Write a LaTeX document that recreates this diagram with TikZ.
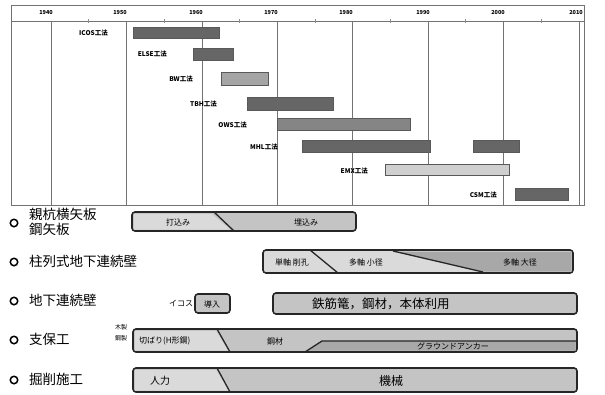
\documentclass[tikz,border=0pt]{standalone}
\usepackage{fontspec}
\newfontfamily\jp{Noto Sans CJK JP}
\usepackage{tikz}

\definecolor{bardark}{HTML}{666666}
\definecolor{barmid}{HTML}{858585}
\definecolor{barlight}{HTML}{A5A5A5}
\definecolor{barpale}{HTML}{CFCFCF}
\definecolor{bandfill}{HTML}{C4C4C4}
\definecolor{bandpale}{HTML}{DADADA}
\definecolor{banddark}{HTML}{A8A8A8}

\begin{document}
\begin{tikzpicture}[x=1pt,y=-1pt,font=\jp,
	grid/.style={draw=black!55, line width=0.8pt},
	bar/.style={draw=black!65, line width=0.6pt},
	year/.style={font=\jp\fontsize{5.5}{6}\selectfont\bfseries, inner sep=0pt},
	lbl/.style={font=\jp\fontsize{6.5}{7}\selectfont\bfseries, anchor=east, inner sep=0pt},
	band/.style={draw=black!85, line width=1.6pt, rounded corners=3pt},
	cut/.style={draw=black!85, line width=1.3pt},
	row/.style={font=\jp\fontsize{13.5}{14.5}\selectfont, anchor=west, align=left, inner sep=0pt},
	txt/.style={font=\jp\fontsize{8}{9}\selectfont, inner sep=0pt},
	dot/.style={draw, line width=1.5pt, circle, minimum size=7.5pt, inner sep=0pt}]

	\useasboundingbox (0,0) rectangle (605,394);

	% Draw frame
	\draw[grid] (11,5) rectangle (584,205);
	\draw[grid] (11,21) -- (584,21);

	% Draw grid
	\draw[grid] (51,21) -- (51,205);
	\draw[grid] (126,21) -- (126,205);
	\draw[grid] (202,21) -- (202,205);
	\draw[grid] (277,21) -- (277,205);
	\draw[grid] (352,21) -- (352,205);
	\draw[grid] (428,21) -- (428,205);
	\draw[grid] (503,21) -- (503,205);
	\draw[grid] (579,21) -- (579,205);

	\draw[black!45] (88,19) -- (88,23);
	\draw[black!45] (164,19) -- (164,23);
	\draw[black!45] (239,19) -- (239,23);
	\draw[black!45] (315,19) -- (315,23);
	\draw[black!45] (390,19) -- (390,23);
	\draw[black!45] (465,19) -- (465,23);
	\draw[black!45] (541,19) -- (541,23);

	% Years
	\node[year] (y1940) at (46,13) {1940};
	\node[year] (y1950) at (120,13) {1950};
	\node[year] (y1960) at (196,13) {1960};
	\node[year] (y1970) at (271,13) {1970};
	\node[year] (y1980) at (346,13) {1980};
	\node[year] (y1990) at (423,13) {1990};
	\node[year] (y2000) at (498,13) {2000};
	\node[year] (y2010) at (576,13) {2010};

	% Draw bars
	\filldraw[bar, fill=bardark] (133,27) rectangle (219,38);
	\filldraw[bar, fill=bardark] (193,48) rectangle (233,60);
	\filldraw[bar, fill=barlight] (221,72) rectangle (268,85);
	\filldraw[bar, fill=bardark] (247,97) rectangle (333,110);
	\filldraw[bar, fill=barmid] (277,118) rectangle (410,130);
	\filldraw[bar, fill=bardark] (302,140) rectangle (430,152);
	\filldraw[bar, fill=bardark] (473,140) rectangle (519,152);
	\filldraw[bar, fill=barpale] (385,164) rectangle (509,175);
	\filldraw[bar, fill=bardark] (515,188) rectangle (568,200);

	% Labels
	\node[lbl] (m1) at (108,33) {ICOS工法};
	\node[lbl] (m2) at (167,54) {ELSE工法};
	\node[lbl] (m3) at (193,79) {BW工法};
	\node[lbl] (m4) at (217,104) {TBH工法};
	\node[lbl] (m5) at (247,125) {OWS工法};
	\node[lbl] (m6) at (278,147) {MHL工法};
	\node[lbl] (m7) at (368,171) {EMX工法};
	\node[lbl] (m8) at (497,195) {CSM工法};

	% Row 1
	\node[dot] (c1) at (14,223) {};
	\node[row] (r1) at (29,222) {親杭横矢板\\鋼矢板};
	\draw[band, fill=bandfill] (132,212) rectangle (356,231);
	\fill[bandpale] (134,214) -- (212,214) -- (230,229.5) -- (134,229.5) -- cycle;
	\draw[cut] (214,212) -- (234,231);
	\node[txt] (p1) at (178,222) {打込み};
	\node[txt] (q1) at (306,222) {埋込み};

	% Row 2
	\node[dot] (c2) at (14,262) {};
	\node[row] (r2) at (29,261) {柱列式地下連続壁};
	\draw[band, fill=bandpale] (263,250) rectangle (573,273);
	\fill[banddark] (393,251.5) -- (571.5,251.5) -- (571.5,271.5) -- (483,271.5) -- cycle;
	\draw[cut] (310,250) -- (338,273);
	\draw[cut] (393,251) -- (483,272);
	\node[txt] (p2) at (292,262) {単軸 削孔};
	\node[txt] (q2) at (366,262) {多軸 小径};
	\node[txt] (s2) at (520,262) {多軸 大径};

	% Row 3
	\node[dot] (c3) at (14,301) {};
	\node[row] (r3) at (29,300) {地下連続壁};
	\node[txt] (p3) at (181,303) {イコス};
	\draw[band, fill=bandfill] (195,294) rectangle (230,313);
	\node[txt] (q3) at (212,304) {導入};
	\draw[band, fill=bandfill] (273,293) rectangle (577,314);
	\node[txt, anchor=west, font=\jp\fontsize{12.5}{13}\selectfont] (s3) at (312,304) {鉄筋篭，鋼材，本体利用};

	% Row 4
	\node[dot] (c4) at (14,340) {};
	\node[row] (r4) at (29,339) {支保工};
	\node[txt, font=\jp\fontsize{6}{7}\selectfont] (w4) at (121,327) {木製};
	\node[txt, font=\jp\fontsize{6}{7}\selectfont] (k4) at (121,338) {鋼製};
	\draw[band, fill=bandfill] (133,329) rectangle (577,352);
	\fill[bandpale] (135,331) -- (216,331) -- (228,350.5) -- (135,350.5) -- cycle;
	\fill[banddark] (308,350.5) -- (323,341) -- (575.5,341) -- (575.5,350.5) -- cycle;
	\draw[cut] (217,329) -- (230,352);
	\draw[cut] (305,352) -- (322,341) -- (577,341);
	\node[txt, anchor=west] (p4) at (139,341) {切ばり(H形鋼)};
	\node[txt] (q4) at (275,341) {鋼材};
	\node[txt] (s4) at (453,346) {グラウンドアンカー};

	% Row 5
	\node[dot] (c5) at (14,380) {};
	\node[row] (r5) at (29,379) {掘削施工};
	\draw[band, fill=bandfill] (133,368) rectangle (577,392);
	\fill[bandpale] (135,370) -- (216,370) -- (229,390.5) -- (135,390.5) -- cycle;
	\draw[cut] (217,368) -- (230,392);
	\node[txt, font=\jp\fontsize{10}{11}\selectfont] (p5) at (160,381) {人力};
	\node[txt, font=\jp\fontsize{12}{13}\selectfont] (q5) at (391,381) {機械};

\end{tikzpicture}
\end{document}
